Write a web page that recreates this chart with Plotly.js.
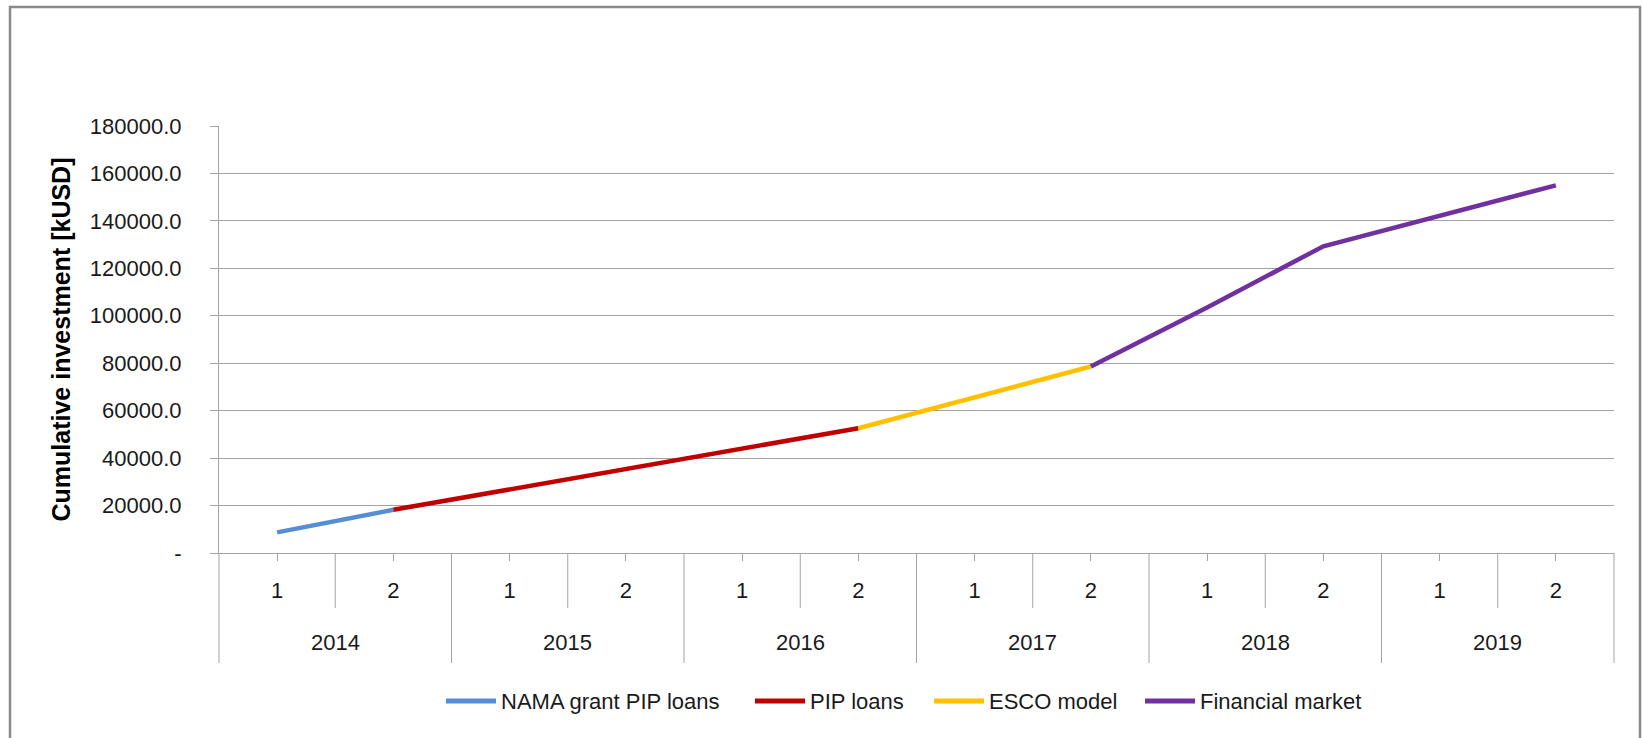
<!DOCTYPE html>
<html>
<head>
<meta charset="utf-8">
<script src="https://cdn.plot.ly/plotly-3.0.1.min.js"></script>
<style>html,body{margin:0;padding:0;background:#fff;}#chart{width:1642px;height:738px;}</style>
</head>
<body>
<div id="chart"></div>
<script>
// ---- data ----
const years = ['2014', '2015', '2016', '2017', '2018', '2019'];
const halves = ['1', '2'];
const seriesNames = ['NAMA grant PIP loans', 'PIP loans', 'ESCO model', 'Financial market'];
const namaGrant = [8700, 18200, null, null, null, null, null, null, null, null, null, null];
const pipLoans = [null, 18200, 26900, 35500, 44100, 52600, null, null, null, null, null, null];
const escoModel = [null, null, null, null, null, 52600, 65600, 78600, null, null, null, null];
const financialMarket = [null, null, null, null, null, null, null, 78600, 103500, 129300, 142000, 155000];
const yTickValues = [0, 20000, 40000, 60000, 80000, 100000, 120000, 140000, 160000, 180000];
const yTitle = 'Cumulative investment [kUSD]';

// ---- build ----
const periods = [];
const periodLabels = [];
years.forEach(y => halves.forEach(h => { periods.push(y + '-' + h); periodLabels.push(h); }));

const colors = ['#558ED5', '#C00000', '#FFC000', '#7030A0'];
const values = [namaGrant, pipLoans, escoModel, financialMarket];
const traces = values.map((v, i) => ({
  x: periods, y: v, type: 'scatter', mode: 'lines', name: seriesNames[i],
  line: {color: colors[i], width: 4.5}, connectgaps: false, hoverinfo: 'x+y', showlegend: false
}));

const FONT = 'Liberation Sans, Arial, sans-serif';
const FS = 22;
const GRID = '#a3a3a3';
const TXT = '#1a1a1a';
const M = {l: 219, r: 28, t: 126, b: 185};
const PW = 1642 - M.l - M.r, PH = 738 - M.t - M.b;
const px2x = p => (p - M.l) / PW;
const px2y = p => (738 - M.b - p) / PH;

const shapes = [];
// inner boundaries (between half 1 and 2 of each year)
years.forEach((y, i) => {
  shapes.push({type: 'line', xref: 'x', yref: 'paper', x0: i * 2 + 0.5, x1: i * 2 + 0.5, y0: 0, y1: px2y(608), line: {color: GRID, width: 1}});
});
// group boundaries between years
for (let i = 1; i < years.length; i++) {
  shapes.push({type: 'line', xref: 'x', yref: 'paper', x0: i * 2 - 0.5, x1: i * 2 - 0.5, y0: 0, y1: px2y(663), line: {color: GRID, width: 1}});
}
// outer edges of the category axis
[0, 1].forEach(e => shapes.push({type: 'line', xref: 'x domain', yref: 'paper', x0: e, x1: e, y0: 0, y1: px2y(663), line: {color: GRID, width: 1}}));
// chart frame
shapes.push({type: 'rect', xref: 'paper', yref: 'paper', x0: px2x(10), x1: px2x(1640), y0: px2y(745), y1: px2y(7), line: {color: '#8a8a8a', width: 2.5}, fillcolor: 'rgba(0,0,0,0)'});

const annotations = years.map((y, i) => ({
  text: y, xref: 'x', yref: 'paper', x: i * 2 + 0.5, y: px2y(642), yanchor: 'middle', xanchor: 'center',
  showarrow: false, font: {family: FONT, size: FS, color: TXT}
}));

// legend (drawn as line keys + text)
const legendStarts = [446, 755, 934, 1145];
const legendY = 701;
seriesNames.forEach((n, i) => {
  shapes.push({type: 'line', xref: 'paper', yref: 'paper', x0: px2x(legendStarts[i]), x1: px2x(legendStarts[i] + 50), y0: px2y(legendY), y1: px2y(legendY), line: {color: colors[i], width: 5}});
  annotations.push({text: n, xref: 'paper', yref: 'paper', x: px2x(legendStarts[i] + 53), y: px2y(legendY), xanchor: 'left', yanchor: 'middle', showarrow: false, font: {family: FONT, size: FS, color: TXT}});
});

const layout = {
  width: 1642, height: 738,
  margin: M,
  paper_bgcolor: '#ffffff', plot_bgcolor: '#ffffff',
  font: {family: FONT, size: FS, color: TXT},
  showlegend: false,
  xaxis: {
    type: 'category', range: [-0.5, 11.5], tickmode: 'array', tickvals: periods, ticktext: periodLabels,
    showgrid: false, zeroline: false, showline: true, linecolor: GRID, linewidth: 1,
    ticks: 'outside', ticklen: 7, tickcolor: GRID, tickwidth: 1, ticklabelstandoff: 11,
    tickfont: {family: FONT, size: FS, color: TXT}, fixedrange: true
  },
  yaxis: {
    range: [0, 180000], tickmode: 'array', tickvals: yTickValues,
    ticktext: yTickValues.map(v => v === 0 ? '-' : v.toFixed(1)),
    showgrid: true, gridcolor: GRID, gridwidth: 1, zeroline: false,
    showline: true, linecolor: GRID, linewidth: 1,
    ticks: 'outside', ticklen: 8, tickcolor: GRID, tickwidth: 1, ticklabelstandoff: 24,
    tickfont: {family: FONT, size: FS, color: TXT},
    title: {text: '<b>' + yTitle + '</b>', font: {family: FONT, size: 25, color: '#000'}, standoff: 12},
    fixedrange: true
  },
  shapes: shapes,
  annotations: annotations
};

Plotly.newPlot('chart', traces, layout, {displayModeBar: false, staticPlot: true});
</script>
</body>
</html>
